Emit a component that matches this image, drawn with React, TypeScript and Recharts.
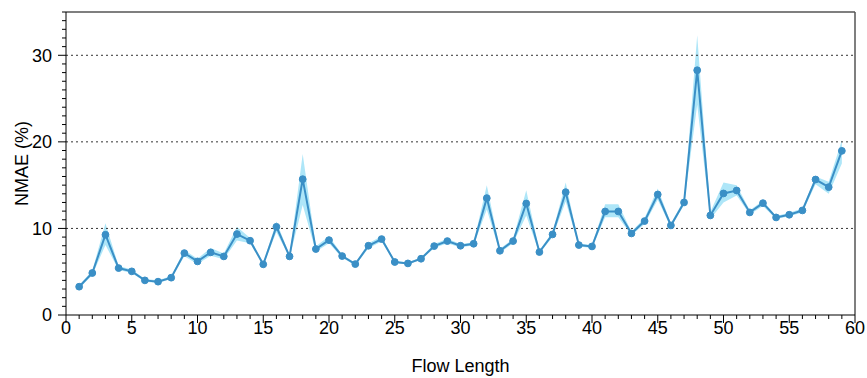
import React from 'react';
import { ComposedChart, Line, Area, XAxis, YAxis, ReferenceLine } from 'recharts';

const flowLengths = [
  1, 2, 3, 4, 5, 6, 7, 8, 9, 10, 11, 12, 13, 14, 15, 16, 17, 18, 19, 20,
  21, 22, 23, 24, 25, 26, 27, 28, 29, 30, 31, 32, 33, 34, 35, 36, 37, 38, 39, 40,
  41, 42, 43, 44, 45, 46, 47, 48, 49, 50, 51, 52, 53, 54, 55, 56, 57, 58, 59,
];

const nmaeMean = [
  3.27, 4.85, 9.27, 5.42, 5.04, 4.0, 3.85, 4.31, 7.15, 6.19,
  7.23, 6.77, 9.35, 8.58, 5.85, 10.19, 6.77, 15.69, 7.62, 8.65,
  6.81, 5.88, 8.0, 8.77, 6.12, 5.96, 6.5, 7.96, 8.54, 8.0,
  8.23, 13.5, 7.42, 8.54, 12.88, 7.27, 9.31, 14.19, 8.08, 7.92,
  11.96, 11.96, 9.42, 10.85, 13.92, 10.35, 13.0, 28.27, 11.5, 14.04,
  14.38, 11.85, 12.92, 11.27, 11.58, 12.08, 15.65, 14.77, 18.96,
];

const nmaeLower = [
  3.1, 4.6, 8.1, 5.2, 4.85, 3.85, 3.7, 4.15, 6.8, 5.9,
  6.85, 6.45, 8.6, 8.3, 5.7, 9.6, 6.6, 12.7, 7.3, 8.3,
  6.6, 5.75, 7.7, 8.5, 6.0, 5.85, 6.35, 7.75, 8.3, 7.8,
  8.05, 12.2, 7.2, 8.3, 11.5, 7.1, 9.0, 13.1, 7.9, 7.75,
  11.3, 11.3, 9.2, 10.5, 13.3, 10.1, 12.7, 24.3, 11.1, 13.0,
  13.8, 11.6, 12.6, 11.1, 11.4, 11.85, 15.1, 14.0, 17.5,
];

const nmaeUpper = [
  3.45, 5.1, 10.6, 5.65, 5.25, 4.15, 4.0, 4.5, 7.5, 6.5,
  7.75, 7.1, 10.2, 8.9, 6.0, 10.8, 6.95, 18.6, 7.95, 9.1,
  7.0, 6.0, 8.3, 9.1, 6.25, 6.1, 6.65, 8.2, 8.8, 8.2,
  8.4, 15.0, 7.65, 8.8, 14.4, 7.45, 9.6, 15.3, 8.25, 8.1,
  12.8, 12.8, 9.65, 11.2, 14.6, 10.6, 13.3, 32.3, 11.9, 15.3,
  15.0, 12.1, 13.2, 11.45, 11.8, 12.3, 16.0, 15.4, 20.2,
];

const xTicks = Array.from({ length: 61 }, (_, i) => i);
const yTicks = Array.from({ length: 36 }, (_, i) => i);
const gridValues = [10, 20, 30];
const X_MAX = 60;
const Y_MAX = 35;

const data = flowLengths.map((x, i) => ({
  x,
  mean: nmaeMean[i],
  band: [nmaeLower[i], nmaeUpper[i]],
}));

const FONT = 'Liberation Sans, Arial, Helvetica, sans-serif';
const LINE_COLOR = '#3a8fc6';
const BAND_COLOR = '#aee6f8';

const XTick = (props: any) => {
  const { x, y, payload } = props;
  const major = payload.value % 5 === 0;
  return (
    <g>
      <line x1={x} x2={x} y1={y} y2={y + (major ? 8 : 4)} stroke="#000" />
      {major && (
        <text x={x} y={y + 19} textAnchor="middle" fontFamily={FONT} fontSize={18} fill="#000">
          {payload.value}
        </text>
      )}
    </g>
  );
};

const YTick = (props: any) => {
  const { x, y, payload } = props;
  const major = payload.value % 10 === 0;
  return (
    <g>
      <line x1={x - (major ? 8 : 4)} x2={x} y1={y} y2={y} stroke="#000" />
      {major && (
        <text x={x - 14} y={y} dy="0.35em" textAnchor="end" fontFamily={FONT} fontSize={18} fill="#000">
          {payload.value}
        </text>
      )}
    </g>
  );
};

const XLabel = (p: any) => {
  const vb = p.viewBox;
  return (
    <text x={vb.x + vb.width / 2} y={vb.y + 57} textAnchor="middle" fontFamily={FONT} fontSize={18} fill="#000">
      Flow Length
    </text>
  );
};

const YLabel = (p: any) => {
  const vb = p.viewBox;
  const cx = 22;
  const cy = vb.y + vb.height / 2;
  return (
    <text
      x={cx}
      y={cy}
      dy="0.35em"
      textAnchor="middle"
      transform={`rotate(-90, ${cx}, ${cy})`}
      fontFamily={FONT}
      fontSize={18}
      fill="#000"
    >
      NMAE (%)
    </text>
  );
};

export default function App() {
  return (
    <div
      style={{
        position: 'fixed',
        left: 0,
        top: 0,
        width: 867,
        height: 378,
        overflow: 'hidden',
        background: '#fff',
      }}
    >
      <ComposedChart
        width={867}
        height={378}
        data={data}
        margin={{ top: 12, right: 12, left: 0, bottom: 0 }}
        style={{ overflow: 'hidden' }}
      >
        <XAxis
          dataKey="x"
          type="number"
          domain={[0, X_MAX]}
          ticks={xTicks}
          interval={0}
          tickLine={false}
          tickSize={0}
          tickMargin={0}
          tick={<XTick />}
          height={63}
          axisLine={{ stroke: '#000', strokeWidth: 1 }}
          label={{ content: XLabel }}
        />
        <YAxis
          type="number"
          domain={[0, Y_MAX]}
          ticks={yTicks}
          interval={0}
          tickLine={false}
          tickSize={0}
          tickMargin={0}
          tick={<YTick />}
          width={66}
          axisLine={{ stroke: '#000', strokeWidth: 1 }}
          label={{ content: YLabel }}
        />
        <ReferenceLine y={gridValues[0]} stroke="#333" strokeDasharray="2 3" />
        <ReferenceLine y={gridValues[1]} stroke="#333" strokeDasharray="2 3" />
        <ReferenceLine y={gridValues[2]} stroke="#333" strokeDasharray="2 3" />
        <ReferenceLine y={Y_MAX} stroke="#555" ifOverflow="visible" strokeWidth={1.5} />
        <ReferenceLine x={X_MAX} stroke="#555" ifOverflow="visible" strokeWidth={1.5} />
        <Area
          type="linear"
          dataKey="band"
          stroke="none"
          fill={BAND_COLOR}
          fillOpacity={1}
          isAnimationActive={false}
          activeDot={false}
        />
        <Line
          type="linear"
          dataKey="mean"
          stroke={LINE_COLOR}
          strokeWidth={2}
          dot={{ r: 3.4, fill: LINE_COLOR, stroke: LINE_COLOR, strokeWidth: 1 }}
          activeDot={false}
          isAnimationActive={false}
        />
      </ComposedChart>
    </div>
  );
}
